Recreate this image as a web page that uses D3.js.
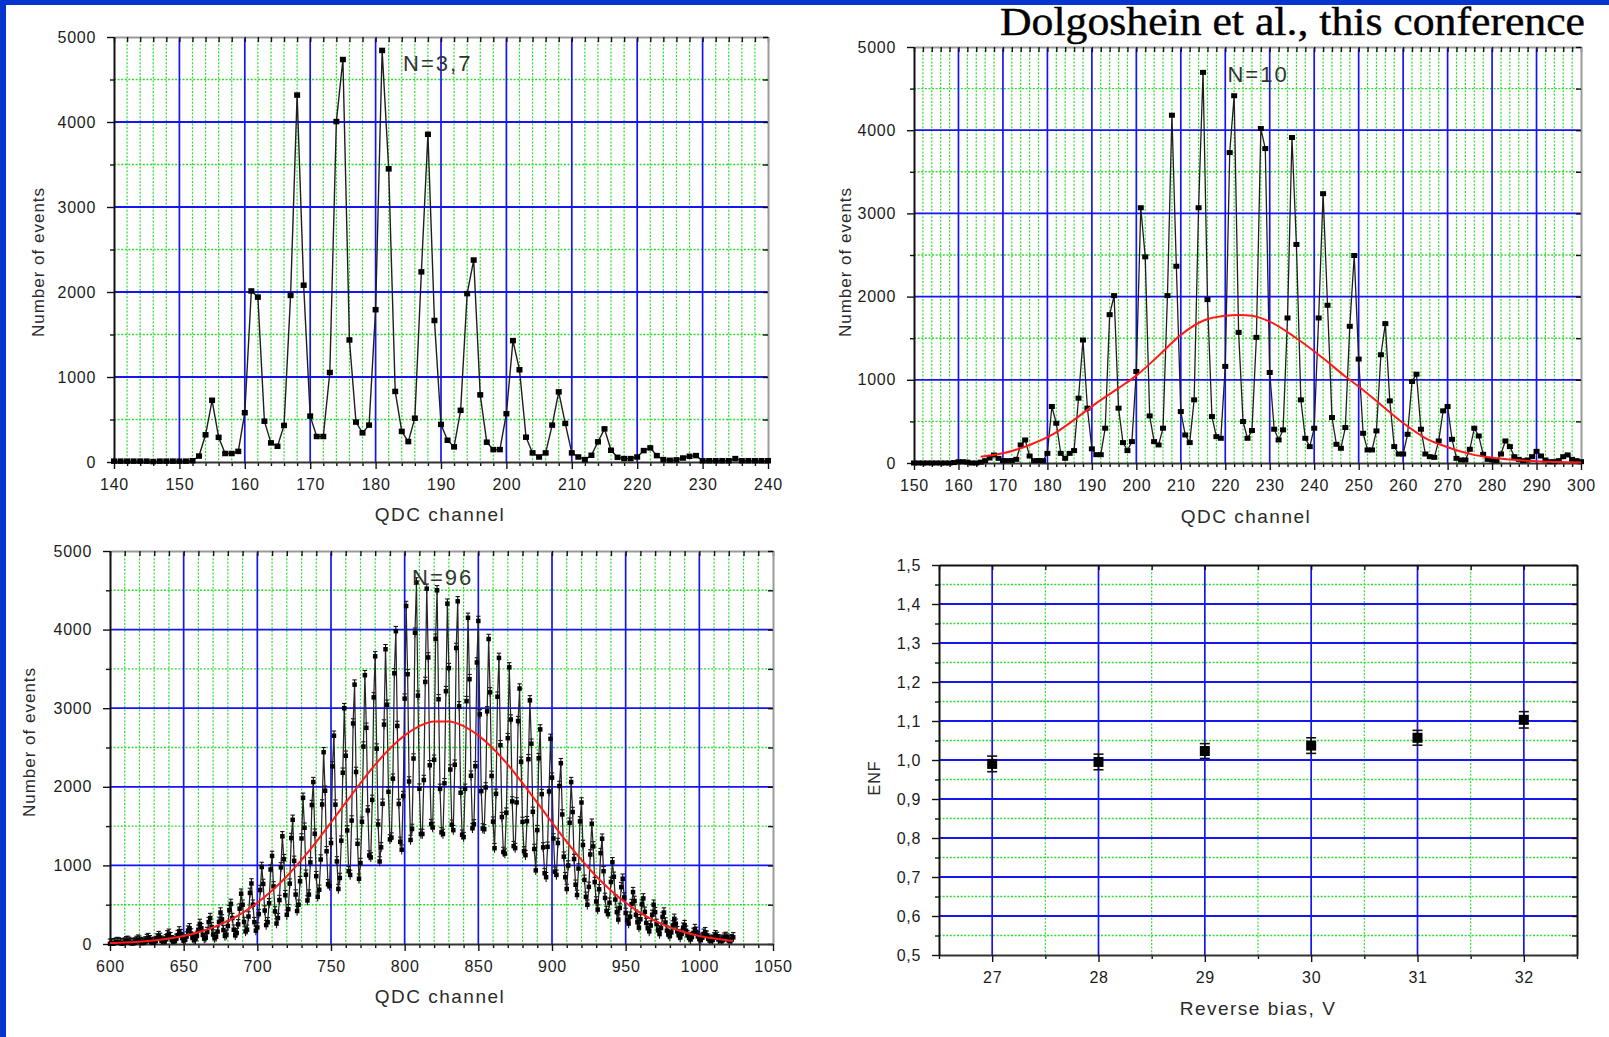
<!DOCTYPE html>
<html><head><meta charset="utf-8">
<script src="https://cdn.jsdelivr.net/npm/d3@7"></script>
<style>body{margin:0;background:#fff;overflow:hidden}svg{display:block}</style>
</head><body>
<svg id="c" width="1609" height="1037"></svg>
<script>
// ---------------- DATA ----------------
const titleText = "Dolgoshein et al., this conference";

// Panel A: N=3,7  (QDC channels 140..240)
const n37Start = 140;
const n37Counts = [10,10,10,10,10,10,5,10,10,10,10,10,15,70,320,726,290,100,100,125,
 580,2012,1940,480,225,185,430,1960,4317,2080,540,300,300,1053,4005,4735,1436,470,343,434,
 1792,4842,3449,830,360,240,515,2237,3855,1665,442,256,178,608,1981,2376,790,233,146,146,
 568,1428,1085,292,107,59,107,434,825,454,107,59,28,79,237,390,138,55,40,40,
 59,134,166,75,28,20,25,47,67,75,15,15,15,15,15,40,15,15,15,15,15];

// Panel B: N=10  (QDC channels 150..300)
const n10Start = 150;
const n10Counts = [0,0,0,0,0,0,0,0,0,5,15,15,10,0,0,10,28,60,96,56,
 30,28,30,44,217,277,84,28,30,28,116,679,478,116,56,116,149,779,1478,659,
 170,100,100,418,1783,2012,659,245,149,257,1100,3068,2478,566,257,217,418,2012,4180,2365,
 618,337,245,759,3068,4695,1964,558,317,297,1161,3731,4414,1570,498,297,390,1510,4020,3779,
 1088,406,277,398,1743,3912,2627,759,297,197,418,1743,3237,1896,546,225,177,426,1643,2494,
 1249,357,157,157,386,1301,1675,747,197,108,108,345,980,1068,406,108,76,68,265,627,
 679,285,56,36,36,165,418,325,104,44,36,28,108,265,197,76,44,28,36,76,
 140,84,36,16,16,28,76,97,44,28,16];
const n10FitCh  = [165,170,176,181,187,191,196,200,205,210,215,220,223,226,230,236,242,247,250,255,260,265,270,275,281,289,300];
const n10FitVal = [76,117,217,337,558,720,900,1050,1290,1540,1710,1770,1780,1770,1700,1500,1260,1040,920,700,480,300,190,110,56,24,6];

// Panel C: N=96  (QDC channels 600..1023)
const n96Start = 600;
const n96Counts = [3,4,
 5,9,17,25,19,11,6, 9,18,34,40,26,14,8, 10,20,38,55,42,23,12, 16,33,63,75,48,26,15,
 20,38,70,100,78,42,23, 32,60,110,130,85,48,30, 40,66,114,160,126,74,45, 53,95,170,200,133,77,50,
 60,103,181,255,200,115,68, 80,152,279,330,215,121,75, 90,158,282,400,313,177,102, 118,230,430,510,330,182,110,
 140,250,450,640,500,280,160, 182,350,650,770,500,278,170, 210,380,687,980,764,426,241, 277,518,948,1120,733,415,260,
 330,559,975,1370,1079,621,372, 443,768,1348,1580,1058,629,420, 500,799,1343,1860,1479,881,554, 629,1038,1768,2060,1403,863,600,
 690,1075,1775,2440,1950,1180,760, 739,1285,2260,2650,1773,1051,700, 840,1315,2179,3000,2395,1445,926, 879,1571,2806,3300,2189,1275,830,
 1030,1556,2512,3420,2751,1699,1126, 1102,1833,3138,3660,2486,1520,1050, 1230,1784,2792,3750,3044,1936,1331, 1354,2104,3444,3980,2774,1782,1300,
 1200,1882,3122,4300,3432,2068,1324, 1464,2360,3960,4600,3160,1976,1400, 1400,2086,3334,4520,3646,2274,1525, 1482,2344,3884,4500,3114,1974,1420,
 1400,2045,3217,4330,3510,2220,1517, 1449,2281,3766,4360,3024,1925,1390, 1360,1974,3090,4150,3369,2141,1472, 1523,2262,3582,4110,2922,1945,1470,
 1460,1992,2960,3880,3202,2138,1557, 1219,1911,3146,3640,2529,1615,1170, 1150,1671,2619,3520,2856,1814,1245, 1221,1801,2836,3250,2319,1553,1180,
 1130,1563,2351,3100,2548,1682,1209, 937,1449,2364,2730,1907,1229,900, 850,1237,1941,2610,2117,1343,920, 879,1285,2010,2300,1648,1111,850,
 700,999,1543,2060,1679,1081,754, 624,960,1560,1800,1260,816,600, 500,727,1139,1530,1242,788,541, 438,696,1156,1340,926,586,420,
 380,525,789,1040,855,565,406, 311,459,724,830,592,395,300, 260,348,508,660,548,372,276, 208,314,504,580,409,268,200,
 160,235,371,500,405,255,174, 126,204,344,400,274,170,120, 100,148,236,320,258,162,109, 83,128,208,240,168,109,80,
 60,89,141,190,154,96,65, 52,80,130,150,105,68,50, 40,55,83,110,90,60,43, 41,55,80,90,68,49,40,
 60,85];
const n96ErrHalf = 60;
const n96FitCh  = [600,610,620,630,640,650,660,670,680,690,700,710,720,730,740,750,760,770,780,790,800,810,820,830,840,850,860,870,880,890,900,910,920,930,940,950,960,970,980,990,1000,1010,1020,1023];
const n96FitVal = [12,19,30,46,70,103,150,211,293,396,524,680,862,1070,1300,1546,1798,2048,2282,2488,2654,2772,2832,2832,2772,2654,2488,2282,2048,1798,1546,1300,1070,862,680,524,396,293,211,150,103,70,46,41];

// Panel D: ENF vs reverse bias
const biasV  = [27,28,29,30,31,32];
const enfVal = [0.990,0.995,1.023,1.037,1.057,1.103];
const enfErr = [0.020,0.020,0.019,0.020,0.019,0.021];

// tick values
const tlXMajor = [140,150,160,170,180,190,200,210,220,230,240];
const trXMajor = [150,160,170,180,190,200,210,220,230,240,250,260,270,280,290,300];
const blXMajor = [600,650,700,750,800,850,900,950,1000,1050];
const evYMajor = [0,1000,2000,3000,4000,5000];
const evYMinor = [500,1500,2500,3500,4500];
const brXMajor = [27,28,29,30,31,32];
const brXMinor = [26.5,27.5,28.5,29.5,30.5,31.5,32.5];
const brYMajor = [0.5,0.6,0.7,0.8,0.9,1.0,1.1,1.2,1.3,1.4,1.5];
const brYMinor = [0.55,0.65,0.75,0.85,0.95,1.05,1.15,1.25,1.35,1.45];

// ---------------- DRAWING ----------------
const svg = d3.select('#c');
const FONT = "'Liberation Sans', Arial, Helvetica, sans-serif";
const BLUE = '#1515f2', GREEN = '#2fdc2f';

svg.append('rect').attr('width',1609).attr('height',1037).attr('fill','#fff');

function minorsBetween(major, step){
  const out=[];
  for(let i=0;i<major.length-1;i++){
    for(let v=major[i]+step; v<major[i+1]-1e-9; v+=step) out.push(+v.toFixed(6));
  }
  return out;
}

function panel(o){
  const x = d3.scaleLinear().domain(o.xDomain).range([o.left,o.right]);
  const y = d3.scaleLinear().domain(o.yDomain).range([o.bottom,o.top]);
  const g = svg.append('g');
  const inX = d => d>o.xDomain[0]+1e-9 && d<o.xDomain[1]-1e-9;
  const inY = d => d>o.yDomain[0]+1e-9 && d<o.yDomain[1]-1e-9;
  g.append('g').selectAll('line').data(o.xMinor.filter(inX)).join('line')
    .attr('x1',d=>x(d)).attr('x2',d=>x(d)).attr('y1',o.top).attr('y2',o.bottom)
    .attr('stroke',GREEN).attr('stroke-width',1.2).attr('stroke-dasharray','2,1.6');
  g.append('g').selectAll('line').data(o.yMinor.filter(inY)).join('line')
    .attr('y1',d=>y(d)).attr('y2',d=>y(d)).attr('x1',o.left).attr('x2',o.right)
    .attr('stroke',GREEN).attr('stroke-width',1.4).attr('stroke-dasharray','2,1.6');
  g.append('g').selectAll('line').data(o.xMajor.filter(inX)).join('line')
    .attr('x1',d=>x(d)).attr('x2',d=>x(d)).attr('y1',o.top).attr('y2',o.bottom)
    .attr('stroke',BLUE).attr('stroke-width',1.7);
  g.append('g').selectAll('line').data(o.yMajor.filter(inY)).join('line')
    .attr('y1',d=>y(d)).attr('y2',d=>y(d)).attr('x1',o.left).attr('x2',o.right)
    .attr('stroke',BLUE).attr('stroke-width',1.8);

  const allX = o.xMajor.concat(o.xMinor), allY = o.yMajor.concat(o.yMinor);
  const style = (sel, col) => {
    sel.selectAll('.domain').attr('stroke',col).attr('stroke-width',2);
    sel.selectAll('.tick line').attr('stroke','#111').attr('stroke-width',1.4);
    sel.selectAll('text').attr('font-family',FONT).attr('font-size',16).attr('fill','#1c1c1c').attr('letter-spacing',0.7);
  };
  g.append('g').attr('transform',`translate(0,${o.top})`)
    .call(d3.axisBottom(x).tickValues(allX).tickSize(5).tickSizeOuter(0).tickFormat(''))
    .call(s=>style(s,o.frameColor));
  g.append('g').attr('transform',`translate(${o.right},0)`)
    .call(d3.axisLeft(y).tickValues(allY).tickSize(5).tickSizeOuter(0).tickFormat(''))
    .call(s=>style(s,o.frameColor));
  g.append('g').attr('transform',`translate(0,${o.bottom})`)
    .call(d3.axisBottom(x).tickValues(o.xMinor).tickSize(4).tickSizeOuter(0).tickFormat(''))
    .call(s=>{style(s,'#333'); s.select('.domain').remove();});
  g.append('g').attr('transform',`translate(0,${o.bottom})`)
    .call(d3.axisBottom(x).tickValues(o.xMajor).tickSize(7).tickSizeOuter(0).tickPadding(10).tickFormat(o.xFmt))
    .call(s=>style(s,'#333'));
  g.append('g').attr('transform',`translate(${o.left},0)`)
    .call(d3.axisLeft(y).tickValues(o.yMinor).tickSize(4).tickSizeOuter(0).tickFormat(''))
    .call(s=>{style(s,'#111'); s.select('.domain').remove();});
  g.append('g').attr('transform',`translate(${o.left},0)`)
    .call(d3.axisLeft(y).tickValues(o.yMajor).tickSize(7).tickSizeOuter(0).tickPadding(11).tickFormat(o.yFmt))
    .call(s=>style(s,'#111'));
  g.append('text').attr('x',o.xTitlePos[0]).attr('y',o.xTitlePos[1])
    .attr('text-anchor','middle').attr('font-family',FONT).attr('font-size',19)
    .attr('letter-spacing',1.5).attr('fill','#2a2a2a').text(o.xTitle);
  g.append('text').attr('transform',`translate(${o.yTitlePos[0]},${o.yTitlePos[1]}) rotate(-90)`)
    .attr('text-anchor','middle').attr('dominant-baseline','central').attr('font-family',FONT)
    .attr('font-size',o.yTitleSize||17).attr('letter-spacing',1).attr('fill','#2a2a2a').text(o.yTitle);
  return {x,y,g};
}

function drawSeries(p, start, counts, opt){
  const data = counts.map((v,i)=>({c:start+i, v}));
  const line = d3.line().x(d=>p.x(d.c)).y(d=>p.y(d.v));
  if(opt.err){
    const eg = p.g.append('g').attr('stroke','#111').attr('stroke-width',1.1);
    eg.selectAll('line.v').data(data).join('line')
      .attr('x1',d=>p.x(d.c)).attr('x2',d=>p.x(d.c))
      .attr('y1',d=>p.y(d.v+opt.err)).attr('y2',d=>p.y(Math.max(0,d.v-opt.err)));
    eg.selectAll('line.t').data(data).join('line')
      .attr('x1',d=>p.x(d.c)-2.2).attr('x2',d=>p.x(d.c)+2.2)
      .attr('y1',d=>p.y(d.v+opt.err)).attr('y2',d=>p.y(d.v+opt.err));
  }
  p.g.append('path').datum(data).attr('d',line).attr('fill','none')
    .attr('stroke',opt.lineColor).attr('stroke-width',opt.lineWidth);
  p.g.append('g').selectAll('rect').data(data).join('rect')
    .attr('x',d=>p.x(d.c)-opt.mw/2).attr('y',d=>p.y(d.v)-opt.mh/2)
    .attr('width',opt.mw).attr('height',opt.mh).attr('fill','#000');
}

function drawFit(p, chs, vals){
  const data = chs.map((c,i)=>({c, v:vals[i]}));
  p.g.append('path').datum(data)
    .attr('d', d3.line().curve(d3.curveMonotoneX).x(d=>p.x(d.c)).y(d=>p.y(d.v)))
    .attr('fill','none').attr('stroke','#ff1a1a').attr('stroke-width',2);
}

function nLabel(p, xv, yv, txt){
  p.g.append('text').attr('x',p.x(xv)).attr('y',p.y(yv)).attr('font-family',FONT)
    .attr('font-size',22).attr('letter-spacing',2).attr('fill','#333').text(txt);
}

const fmtD = d3.format('d');
const fmtC = d => d3.format('.1f')(d).replace('.',',');

const pA = panel({left:114,right:768,top:37,bottom:462,xDomain:[140,240],yDomain:[0,5000],
  xMajor:tlXMajor,xMinor:minorsBetween(tlXMajor,2),yMajor:evYMajor,yMinor:evYMinor,
  xFmt:fmtD,yFmt:fmtD,frameColor:'#9a9a9a',
  xTitle:'QDC channel',xTitlePos:[440,521],yTitle:'Number of events',yTitlePos:[38,262]});
drawSeries(pA,n37Start,n37Counts,{lineColor:'#1e1e1e',lineWidth:1.4,mw:6,mh:5.5});
nLabel(pA,184.2,4600,'N=3,7');

const pB = panel({left:914,right:1581,top:47,bottom:463,xDomain:[150,300],yDomain:[0,5000],
  xMajor:trXMajor,xMinor:minorsBetween(trXMajor,2),yMajor:evYMajor,yMinor:evYMinor,
  xFmt:fmtD,yFmt:fmtD,frameColor:'#9a9a9a',
  xTitle:'QDC channel',xTitlePos:[1246,523],yTitle:'Number of events',yTitlePos:[845,262]});
drawSeries(pB,n10Start,n10Counts,{lineColor:'#1e1e1e',lineWidth:1.3,mw:6,mh:5});
drawFit(pB,n10FitCh,n10FitVal);
nLabel(pB,220.5,4580,'N=10');

const pC = panel({left:110,right:773,top:551,bottom:944,xDomain:[600,1050],yDomain:[0,5000],
  xMajor:blXMajor,xMinor:minorsBetween(blXMajor,10),yMajor:evYMajor,yMinor:evYMinor,
  xFmt:fmtD,yFmt:fmtD,frameColor:'#9a9a9a',
  xTitle:'QDC channel',xTitlePos:[440,1003],yTitle:'Number of events',yTitlePos:[29,742]});
drawSeries(pC,n96Start,n96Counts,{lineColor:'#262626',lineWidth:1.25,mw:4.5,mh:4.5,err:n96ErrHalf});
drawFit(pC,n96FitCh,n96FitVal);
nLabel(pC,805,4570,'N=96');

const pD = panel({left:939,right:1577,top:565,bottom:955,xDomain:[26.5,32.5],yDomain:[0.5,1.5],
  xMajor:brXMajor,xMinor:brXMinor,yMajor:brYMajor,yMinor:brYMinor,
  xFmt:fmtD,yFmt:fmtC,frameColor:'#111',
  xTitle:'Reverse bias, V',xTitlePos:[1258,1015],yTitle:'ENF',yTitlePos:[874,778],yTitleSize:16});
{
  const d = biasV.map((b,i)=>({b, v:enfVal[i], e:enfErr[i]}));
  const eg = pD.g.append('g').attr('stroke','#111').attr('stroke-width',1.6);
  eg.selectAll('line.v').data(d).join('line')
    .attr('x1',k=>pD.x(k.b)).attr('x2',k=>pD.x(k.b)).attr('y1',k=>pD.y(k.v+k.e)).attr('y2',k=>pD.y(k.v-k.e));
  eg.selectAll('line.t').data(d).join('line')
    .attr('x1',k=>pD.x(k.b)-5).attr('x2',k=>pD.x(k.b)+5).attr('y1',k=>pD.y(k.v+k.e)).attr('y2',k=>pD.y(k.v+k.e));
  eg.selectAll('line.b').data(d).join('line')
    .attr('x1',k=>pD.x(k.b)-5).attr('x2',k=>pD.x(k.b)+5).attr('y1',k=>pD.y(k.v-k.e)).attr('y2',k=>pD.y(k.v-k.e));
  pD.g.append('g').selectAll('rect').data(d).join('rect')
    .attr('x',k=>pD.x(k.b)-5).attr('y',k=>pD.y(k.v)-5).attr('width',10).attr('height',10).attr('fill','#000');
}

svg.append('text').attr('x',1000).attr('y',35).attr('font-family',"'Liberation Serif','Times New Roman',serif")
  .attr('font-size',40).attr('fill','#000').attr('stroke','#000').attr('stroke-width',0.4)
  .attr('textLength',585).attr('lengthAdjust','spacingAndGlyphs')
  .text(titleText);

svg.append('rect').attr('x',0).attr('y',0).attr('width',6).attr('height',1037).attr('fill','#0634cf');
svg.append('rect').attr('x',0).attr('y',0).attr('width',1609).attr('height',5).attr('fill','#0634cf');
</script>
</body></html>
